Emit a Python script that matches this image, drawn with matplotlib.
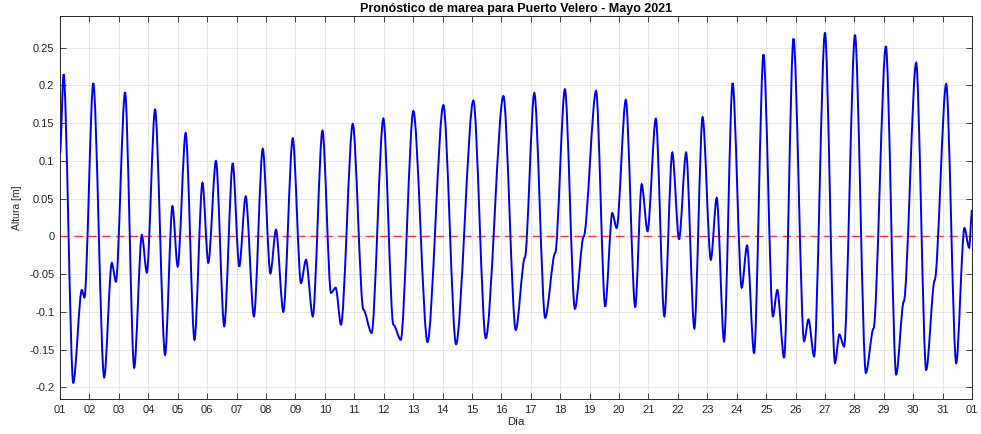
import matplotlib
matplotlib.use("Agg")
import matplotlib.pyplot as plt
from matplotlib.path import Path
from matplotlib.patches import PathPatch
import numpy as np

plt.rcParams['font.family'] = ['Liberation Sans', 'DejaVu Sans']

# turning points of the tide curve (days since 01 May 00:00, height in m)
t_ext = [0.00, 0.12, 0.45, 0.74, 0.83, 1.13, 1.50, 1.76, 1.90, 2.21,
         2.52, 2.78, 2.95, 3.23, 3.57, 3.82, 4.00, 4.27, 4.57, 4.84,
         5.04, 5.30, 5.58, 5.87, 6.09, 6.31, 6.59, 6.89, 7.15, 7.34,
         7.59, 7.91, 8.19, 8.36, 8.59, 8.92, 9.21, 9.37, 9.55, 9.95,
         10.31, 10.59, 10.99, 11.33, 11.58, 12.01, 12.49, 13.03, 13.46, 14.05,
         14.47, 15.07, 15.49, 15.80, 16.12, 16.49, 16.83, 17.16, 17.50, 17.80,
         18.22, 18.53, 18.77, 18.92, 19.23, 19.55, 19.77, 19.97, 20.25, 20.54,
         20.81, 21.04, 21.28, 21.56, 21.84, 22.12, 22.32, 22.57, 22.86, 23.17,
         23.35, 23.59, 23.91, 24.23, 24.38, 24.61, 24.93, 25.29, 25.44, 25.63,
         26.00, 26.34, 26.49, 26.65, 27.02, 27.39, 27.65, 28.07, 28.42, 28.68,
         29.10, 29.44, 29.73, 30.12, 30.46, 30.74, 30.90, 31.00]
h_ext = [0.110, 0.215, -0.194, -0.071, -0.081, 0.203, -0.187, -0.035, -0.060, 0.191,
         -0.174, 0.002, -0.048, 0.168, -0.157, 0.040, -0.040, 0.137, -0.137, 0.071,
         -0.035, 0.100, -0.119, 0.097, -0.040, 0.053, -0.106, 0.116, -0.049, 0.009,
         -0.100, 0.130, -0.062, -0.031, -0.106, 0.140, -0.075, -0.068, -0.117, 0.149,
         -0.097, -0.128, 0.156, -0.117, -0.137, 0.166, -0.140, 0.174, -0.143, 0.180,
         -0.135, 0.186, -0.124, -0.028, 0.190, -0.108, -0.022, 0.195, -0.096, 0.000,
         0.193, -0.093, 0.031, 0.011, 0.181, -0.094, 0.069, 0.007, 0.156, -0.106,
         0.111, -0.004, 0.111, -0.122, 0.158, -0.031, 0.051, -0.139, 0.203, -0.068,
         -0.012, -0.155, 0.241, -0.106, -0.071, -0.161, 0.262, -0.139, -0.110, -0.159,
         0.270, -0.168, -0.130, -0.146, 0.267, -0.181, -0.122, 0.252, -0.183, -0.086,
         0.230, -0.177, -0.058, 0.202, -0.168, 0.011, -0.015, 0.035]

day_labels = ['%02d' % d for d in range(1, 32)] + ['01']
y_ticks = [-0.2, -0.15, -0.1, -0.05, 0, 0.05, 0.1, 0.15, 0.2, 0.25]
y_labels = ['-0.2', '-0.15', '-0.1', '-0.05', '0', '0.05', '0.1', '0.15', '0.2', '0.25']

fig = plt.figure(figsize=(9.81, 4.34), dpi=100)
ax = fig.add_axes([0.0612, 0.0806, 0.9297, 0.8825])

# smooth curve through the turning points (flat tangents at each one)
k = 0.3
verts = [(t_ext[0], h_ext[0])]
codes = [Path.MOVETO]
for i in range(len(t_ext) - 1):
    t0, t1 = t_ext[i], t_ext[i + 1]
    h0, h1 = h_ext[i], h_ext[i + 1]
    dt = t1 - t0
    verts += [(t0 + k * dt, h0), (t1 - k * dt, h1), (t1, h1)]
    codes += [Path.CURVE4] * 3
ax.add_patch(PathPatch(Path(verts, codes), facecolor='none',
                       edgecolor='#0000f0', lw=1.4, zorder=3))

ax.axhline(0, color='#ff3030', ls=(0, (6, 4)), lw=1.0, zorder=2)

ax.set_xlim(0, 31)
ax.set_ylim(-0.2155, 0.292)
ax.set_xticks(range(0, 32))
ax.set_xticklabels(day_labels)
ax.set_yticks(y_ticks)
ax.set_yticklabels(y_labels)
ax.grid(True, color='#e3e3e3', lw=0.6)
ax.set_axisbelow(True)
ax.tick_params(direction='in', length=4, width=0.6, top=True, right=True,
               labelsize=8, colors='#262626', pad=4)
for s in ax.spines.values():
    s.set_color('#262626')
    s.set_linewidth(0.7)

ax.set_title('Pronóstico de marea para Puerto Velero - Mayo 2021',
             fontsize=9, fontweight='bold', pad=3)
ax.set_xlabel('Día', fontsize=8, color='#262626', labelpad=2)
ax.set_ylabel('Altura [m]', fontsize=7.5, color='#262626', labelpad=5)

fig.savefig('out.png', dpi=100)
